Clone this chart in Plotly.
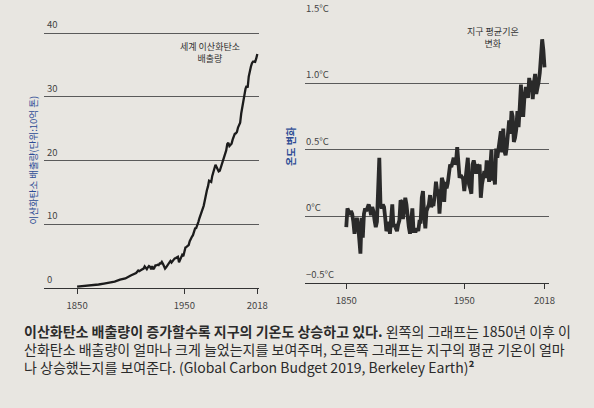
import plotly.graph_objects as go

W, H = 594, 408

# --- data ---
co2_years = [1850, 1855, 1860, 1865, 1870, 1875, 1880, 1885, 1890, 1895, 1900, 1903, 1905, 1907,
             1908, 1910, 1912, 1913, 1914, 1915, 1916, 1917, 1918, 1919, 1920, 1921, 1922, 1923,
             1924, 1925, 1926, 1927, 1928, 1929, 1930, 1931, 1932, 1933, 1934, 1935, 1936, 1937,
             1938, 1939, 1940, 1941, 1942, 1943, 1944, 1945, 1946, 1947, 1948, 1949, 1950, 1951,
             1952, 1953, 1954, 1955, 1956, 1957, 1958, 1959, 1960, 1961, 1962, 1963, 1964, 1965,
             1966, 1967, 1968, 1969, 1970, 1971, 1972, 1973, 1974, 1975, 1976, 1977, 1978, 1979,
             1980, 1981, 1982, 1983, 1984, 1985, 1986, 1987, 1988, 1989, 1990, 1991, 1992, 1993,
             1994, 1995, 1996, 1997, 1998, 1999, 2000, 2001, 2002, 2003, 2004, 2005, 2006, 2007,
             2008, 2009, 2010, 2011, 2012, 2013, 2014, 2015, 2016, 2017, 2018]
co2_gt = [0.20, 0.26, 0.34, 0.45, 0.55, 0.70, 0.86, 1.00, 1.30, 1.50, 1.95, 2.25, 2.35, 2.75,
          2.65, 2.85, 3.05, 3.40, 3.05, 2.95, 3.25, 3.45, 3.35, 2.95, 3.45, 2.95, 3.15, 3.55,
          3.55, 3.65, 3.60, 3.85, 3.85, 4.10, 3.80, 3.40, 3.05, 3.25, 3.50, 3.65, 4.00, 4.25,
          4.00, 4.20, 4.55, 4.65, 4.70, 4.85, 4.90, 4.05, 4.40, 4.90, 5.20, 5.00, 5.90, 6.35,
          6.45, 6.65, 6.75, 7.35, 7.80, 8.05, 8.30, 8.75, 9.35, 9.40, 9.80, 10.35, 10.95, 11.40,
          11.90, 12.25, 12.90, 13.70, 14.85, 15.35, 15.95, 16.85, 16.75, 16.65, 17.60, 18.10, 18.55, 19.35,
          19.00, 18.50, 18.30, 18.40, 18.95, 19.50, 19.85, 20.40, 21.20, 21.60, 22.60, 22.80, 22.30, 22.45,
          22.65, 23.30, 23.90, 24.20, 24.30, 24.50, 25.20, 25.55, 25.95, 27.40, 28.55, 29.45, 30.35, 31.30,
          31.75, 31.45, 33.20, 34.30, 34.75, 35.30, 35.55, 35.55, 35.50, 36.05, 36.75]

temp_years = list(range(1850, 2019))
temp_anom = [
    -0.08, 0.06, 0.04, 0.01, 0.04, 0.02, -0.04, -0.13, -0.06, -0.01,
    -0.06, -0.14, -0.28, -0.01, -0.16, 0.02, 0.06, 0.04, 0.06, 0.09,
    0.06, 0.01, 0.07, 0.04, -0.03, -0.08, -0.04, 0.24, 0.44, 0.09,
    0.06, 0.09, 0.07, -0.01, -0.11, -0.09, -0.04, -0.13, 0.01, 0.09,
    -0.08, -0.06, -0.09, -0.11, -0.06, -0.03, 0.12, 0.11, -0.02, 0.07,
    0.14, 0.09, -0.02, -0.08, -0.13, -0.01, 0.06, -0.11, -0.11, -0.11,
    -0.09, -0.11, -0.04, -0.04, 0.14, 0.19, 0.01, -0.09, 0.04, 0.07,
    0.09, 0.16, 0.07, 0.09, 0.09, 0.16, 0.26, 0.19, 0.19, 0.02,
    0.24, 0.29, 0.26, 0.11, 0.26, 0.21, 0.25, 0.36, 0.39, 0.37,
    0.42, 0.44, 0.39, 0.41, 0.52, 0.42, 0.29, 0.31, 0.29, 0.28,
    0.19, 0.33, 0.36, 0.44, 0.24, 0.21, 0.17, 0.39, 0.42, 0.38,
    0.32, 0.39, 0.37, 0.39, 0.14, 0.24, 0.31, 0.34, 0.29, 0.42,
    0.37, 0.26, 0.37, 0.50, 0.27, 0.32, 0.24, 0.51, 0.44, 0.52,
    0.59, 0.64, 0.48, 0.66, 0.49, 0.46, 0.52, 0.67, 0.72, 0.62,
    0.79, 0.75, 0.56, 0.59, 0.65, 0.79, 0.67, 0.82, 0.99, 0.76,
    0.76, 0.90, 0.96, 0.96, 0.89, 1.04, 0.98, 1.02, 0.88, 1.00,
    1.07, 0.92, 0.96, 1.01, 1.08, 1.23, 1.33, 1.25, 1.12]

year_ticks = [1850, 1950, 2018]
co2_ticks = [0, 10, 20, 30, 40]
temp_ticks = [-0.5, 0, 0.5, 1.0, 1.5]
temp_ticklabels = ["−0.5°C", "0°C", "0.5°C", "1.0°C", "1.5°C"]

caption = [
    "<b>이산화탄소 배출량이 증가할수록 지구의 기온도 상승하고 있다.</b> 왼쪽의 그래프는 1850년 이후 이",
    "산화탄소 배출량이 얼마나 크게 늘었는지를 보여주며, 오른쪽 그래프는 지구의 평균 기온이 얼마",
    "나 상승했는지를 보여준다. (Global Carbon Budget 2019, Berkeley Earth)<b>²</b>",
]

FONT = "Noto Sans CJK KR"
BG = "#e8e6e1"
GRID = "#5a5a5a"
TICKC = "#444444"
BLUE = "#2d4c95"


def px(x):
    return x / W


def py(y):
    return 1 - y / H


fig = go.Figure()
fig.add_trace(go.Scatter(x=co2_years, y=co2_gt, mode="lines",
                         line=dict(color="#1c1c1c", width=2.3),
                         xaxis="x", yaxis="y", showlegend=False))
fig.add_trace(go.Scatter(x=temp_years, y=temp_anom, mode="lines",
                         line=dict(color="#2a2a2a", width=3.8),
                         xaxis="x2", yaxis="y2", showlegend=False))

xcommon = dict(tickvals=year_ticks, ticktext=[str(v) for v in year_ticks],
               showgrid=False, zeroline=False, showline=True, linecolor="#333333", linewidth=1,
               ticks="outside", ticklen=5, tickcolor="#333333", ticklabelstandoff=4,
               tickfont=dict(family=FONT, size=9.5, color=TICKC))
ycommon = dict(showgrid=True, gridcolor=GRID, gridwidth=0.8, zeroline=False, showline=False,
               ticks="", showticklabels=False)

left_x0, right_x0 = 45, 309

fig.update_layout(
    width=W, height=H, autosize=False,
    margin=dict(l=0, r=0, t=0, b=0),
    paper_bgcolor=BG, plot_bgcolor=BG,
    font=dict(family=FONT),
    xaxis=dict(domain=[px(left_x0), px(263)], range=[1819.5, 2020], anchor="y", **xcommon),
    yaxis=dict(domain=[py(288), py(32)], range=[0, 40.2], anchor="x",
               tickvals=co2_ticks, **ycommon),
    xaxis2=dict(domain=[px(right_x0), px(557)], range=[1814.9, 2022.2], anchor="y2", **xcommon),
    yaxis2=dict(domain=[py(283), py(16)], range=[-0.5, 1.505], anchor="x2",
                tickvals=temp_ticks, **ycommon),
)

# y tick labels sit on top of the gridlines at their left end
for v in co2_ticks:
    fig.add_annotation(x=px(left_x0 + 1), y=v, xref="paper", yref="y",
                       xanchor="left", yanchor="bottom", text=str(v),
                       showarrow=False, font=dict(family=FONT, size=9.5, color=TICKC))
for v, t in zip(temp_ticks, temp_ticklabels):
    fig.add_annotation(x=px(right_x0 - 1), y=v, xref="paper", yref="y2",
                       xanchor="left", yanchor="bottom", text=t,
                       showarrow=False, font=dict(family=FONT, size=9.5, color=TICKC))

# axis titles
fig.add_annotation(x=px(33), y=py(160), xref="paper", yref="paper", textangle=-90,
                   xanchor="center", yanchor="middle",
                   text="이산화탄소 배출량(단위:10억 톤)", showarrow=False,
                   font=dict(family=FONT, size=9.5, color=BLUE))
fig.add_annotation(x=px(294), y=py(147), xref="paper", yref="paper", textangle=-90,
                   xanchor="center", yanchor="middle",
                   text="<b>온도 변화</b>", showarrow=False,
                   font=dict(family=FONT, size=10, color=BLUE))

# series labels
fig.add_annotation(x=px(213), y=py(53), xref="paper", yref="paper",
                   xanchor="center", yanchor="middle",
                   text="세계 이산화탄소<br>배출량", showarrow=False, align="center",
                   font=dict(family=FONT, size=9, color="#333333"))
fig.add_annotation(x=px(500), y=py(37), xref="paper", yref="paper",
                   xanchor="center", yanchor="middle",
                   text="지구 평균기온<br>변화", showarrow=False, align="center",
                   font=dict(family=FONT, size=9, color="#333333"))

# caption
fig.add_annotation(x=px(22), y=py(349), xref="paper", yref="paper",
                   xanchor="left", yanchor="middle", align="left",
                   text="<br>".join(caption), showarrow=False,
                   font=dict(family=FONT, size=14, color="#2b2b2b"))

fig.write_html("out.html", config={"displayModeBar": False},
               post_script="document.body.style.margin='0';")
